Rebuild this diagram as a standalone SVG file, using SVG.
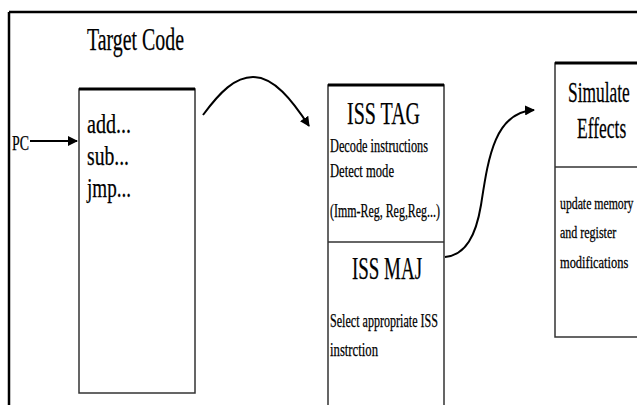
<svg xmlns="http://www.w3.org/2000/svg" width="637" height="405" viewBox="0 0 637 405">
<style>
.t{font-family:"Liberation Serif","Times New Roman",serif;fill:#000;stroke:#000;stroke-width:0.25}
.box{fill:#fff;stroke:#333;stroke-width:1.5}
.top{stroke:#000;stroke-width:3}
.con{fill:none;stroke:#000;stroke-width:2}
</style>
<defs>
<marker id="ah" viewBox="0 0 10 10" refX="9" refY="5" markerWidth="5" markerHeight="5" orient="auto" markerUnits="strokeWidth">
<path d="M0,0 L10,5 L0,10 Z" fill="#000"/>
</marker>
</defs>
<rect width="637" height="405" fill="#fff"/>
<g id="frame">
<line x1="9" y1="12" x2="637" y2="12" stroke="#000" stroke-width="2.5"/>
<line x1="9" y1="12" x2="9" y2="405" stroke="#000" stroke-width="2.5"/>
</g>
<g id="title">
<text class="t" x="87" y="50" font-size="31" textLength="97" lengthAdjust="spacingAndGlyphs">Target Code</text>
</g>
<g id="pc">
<text class="t" x="12" y="150" font-size="22" textLength="17" lengthAdjust="spacingAndGlyphs">PC</text>
</g>
<g id="target">
<rect class="box" x="79" y="89" width="116" height="304"/>
<line class="top" x1="79" y1="89" x2="195" y2="89"/>
<text class="t" x="87" y="133" font-size="27" textLength="44" lengthAdjust="spacingAndGlyphs">add...</text>
<text class="t" x="87" y="165" font-size="27" textLength="42" lengthAdjust="spacingAndGlyphs">sub...</text>
<text class="t" x="87" y="197" font-size="27" textLength="44" lengthAdjust="spacingAndGlyphs">jmp...</text>
</g>
<g id="iss">
<path class="box" d="M328,405 V85 H444 V405"/>
<line class="top" x1="328" y1="85" x2="444" y2="85"/>
<line x1="328" y1="242" x2="444" y2="242" stroke="#333" stroke-width="1.5"/>
<text class="t" x="347" y="124" font-size="32" textLength="73" lengthAdjust="spacingAndGlyphs">ISS TAG</text>
<text class="t" x="330" y="152" font-size="18" textLength="98" lengthAdjust="spacingAndGlyphs">Decode instructions</text>
<text class="t" x="330" y="177" font-size="18" textLength="64" lengthAdjust="spacingAndGlyphs">Detect mode</text>
<text class="t" x="330" y="217" font-size="18" textLength="110" lengthAdjust="spacingAndGlyphs">(Imm-Reg, Reg,Reg...)</text>
<text class="t" x="352" y="279" font-size="32" textLength="70" lengthAdjust="spacingAndGlyphs">ISS MAJ</text>
<text class="t" x="330" y="327" font-size="18" textLength="108" lengthAdjust="spacingAndGlyphs">Select appropriate ISS</text>
<text class="t" x="330" y="356" font-size="18" textLength="48" lengthAdjust="spacingAndGlyphs">instrction</text>
</g>
<g id="simulate">
<path class="box" d="M637,63 H555 V337 H637"/>
<line class="top" x1="555" y1="63" x2="637" y2="63"/>
<line x1="555" y1="167" x2="637" y2="167" stroke="#333" stroke-width="1.5"/>
<text class="t" transform="translate(568,102) scale(0.6,1)" font-size="30" textLength="103" lengthAdjust="spacingAndGlyphs">Simulate</text>
<text class="t" transform="translate(577,138) scale(0.6,1)" font-size="30" textLength="82" lengthAdjust="spacingAndGlyphs">Effects</text>
<text class="t" transform="translate(560,209) scale(0.75,1)" font-size="16" textLength="98" lengthAdjust="spacingAndGlyphs">update memory</text>
<text class="t" transform="translate(560,238) scale(0.75,1)" font-size="16" textLength="75" lengthAdjust="spacingAndGlyphs">and register</text>
<text class="t" transform="translate(560,268) scale(0.75,1)" font-size="16" textLength="91" lengthAdjust="spacingAndGlyphs">modifications</text>
</g>
<g id="connectors">
<line class="con" x1="30" y1="141" x2="77" y2="141" marker-end="url(#ah)"/>
<path class="con" d="M203,115 C220,92 235,77 253,77 C274,77 292,100 309,126" marker-end="url(#ah)"/>
<path class="con" d="M445,257 C466,255 476,235 481,205 C488,160 494,112 534,110" marker-end="url(#ah)"/>
</g>
</svg>
